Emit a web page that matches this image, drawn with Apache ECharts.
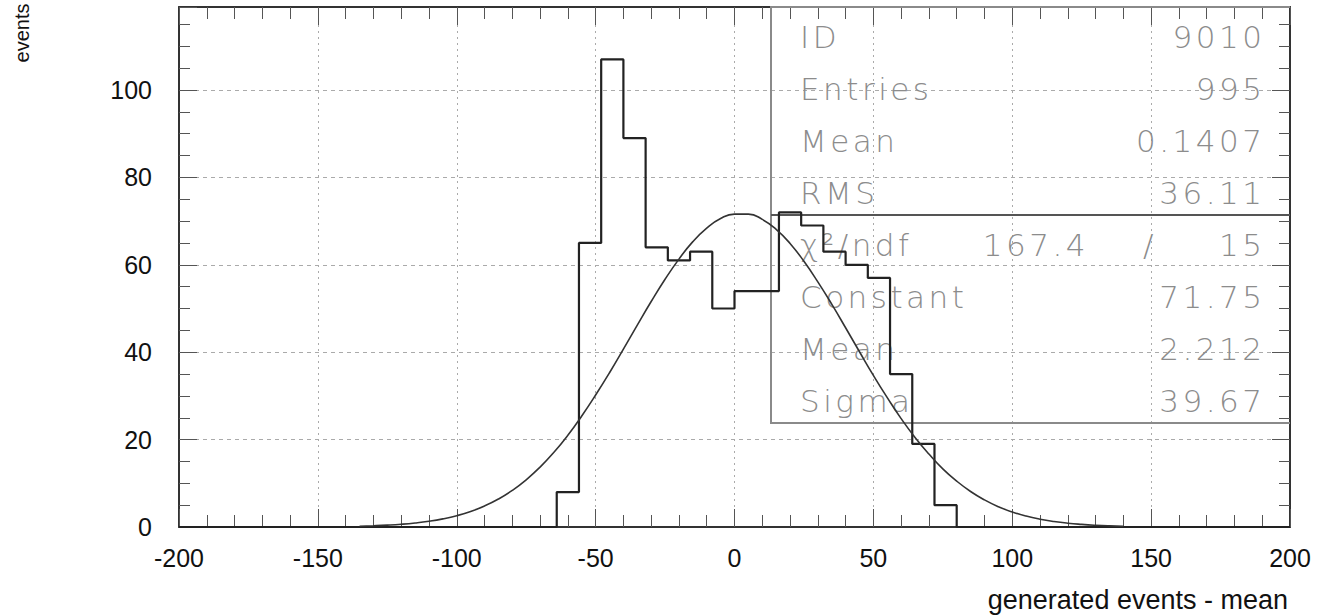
<!DOCTYPE html>
<html>
<head>
<meta charset="utf-8">
<script src="https://cdn.jsdelivr.net/npm/echarts@6/dist/echarts.min.js"></script>
<style>
html,body{margin:0;padding:0;background:#fff;}
#chart{width:1324px;height:615px;}
#chart text[style*="statsbox"], #chart text[font-family*="statsbox"]{letter-spacing:3.5px;}
</style>
</head>
<body>
<div id="chart"></div>
<script>
// ---- data ----
const binStart = -64;
const binWidth = 8;
const counts = [8, 65, 107, 89, 64, 61, 63, 50, 54, 54, 72, 69, 63, 60, 57, 35, 19, 5];
const xRange = [-200, 200];
const yRange = [0, 119];
const fitX = [-135,-130,-125,-120,-115,-110,-105,-100,-95,-90,-85,-80,-75,-70,-65,-60,-55,-50,-45,-40,-35,-30,-25,-20,-15,-10,-5,0,5,10,15,20,25,30,35,40,45,50,55,60,65,70,75,80,85,90,95,100,105,110,115,120,125,130,135,140];
const fitY = [0.18,0.28,0.42,0.62,0.91,1.31,1.86,2.59,3.56,4.81,6.40,8.38,10.8,13.7,17.1,21.0,25.4,30.2,35.3,40.7,46.2,51.6,56.7,61.3,65.3,68.4,70.6,71.6,71.6,70.4,68.1,64.9,60.8,56.1,51.0,45.6,40.1,34.7,29.6,24.8,20.5,16.7,13.3,10.5,8.13,6.20,4.65,3.44,2.50,1.79,1.26,0.87,0.60,0.40,0.26,0.17];
const statLabels = ['ID', 'Entries', 'Mean', 'RMS'];
const statValues = ['9010', '995', '0.1407', '36.11'];
const chiLabel = 'χ²/ndf';
const chiValue = '167.4';
const ndfValue = '15';
const fitLabels = ['Constant', 'Mean', 'Sigma'];
const fitValues = ['71.75', '2.212', '39.67'];
const xTitle = 'generated events - mean';
const yTitle = 'events';

// ---- build series data ----
const histData = [[xRange[0], 0]];
counts.forEach((c, i) => histData.push([binStart + i * binWidth, c]));
histData.push([binStart + counts.length * binWidth, 0]);
histData.push([xRange[1], 0]);
const fitData = fitX.map((x, i) => [x, fitY[i]]);

// ---- layout ----
const G = {left: 179, right: 34, top: 7, bottom: 88};
const W = 1324, H = 615;
const plotR = W - G.right;
const box = {l: 771, t: G.top, r: plotR, m: 215, b: 423};
const rowH = (box.m - box.t) / 4;
const statFont = {fontFamily: 'DejaVu Sans, statsbox', fontSize: 31, fontWeight: 200, fill: '#8c8c8c'};
const lblX = 800, valX = 1265.5;

const graphics = [];
graphics.push({type: 'polyline', z: 1, shape: {points: [[box.r, box.t], [box.l, box.t], [box.l, box.b], [box.r, box.b]]}, style: {stroke: '#8a8a8a', lineWidth: 2, fill: null}});
graphics.push({type: 'line', z: 1, shape: {x1: box.l, y1: box.m, x2: box.r, y2: box.m}, style: {stroke: '#555', lineWidth: 2}});
function txt(s, x, y, align) {
  graphics.push({type: 'text', z: 1, x: x, y: y, style: Object.assign({text: s, textAlign: align, textVerticalAlign: 'middle'}, statFont)});
}
statLabels.forEach((s, i) => {
  const y = box.t + rowH * (i + 0.5) + 4;
  txt(s, lblX, y, 'left');
  txt(statValues[i], valX, y, 'right');
});
{
  const y = box.m + rowH * 0.5 + 4;
  txt(chiLabel, lblX, y, 'left');
  txt(chiValue, 1089, y, 'right');
  txt('/', 1150, y, 'center');
  txt(ndfValue, valX, y, 'right');
}
fitLabels.forEach((s, i) => {
  const y = box.m + rowH * (i + 1.5) + 4;
  txt(s, lblX, y, 'left');
  txt(fitValues[i], valX, y, 'right');
});
graphics.push({type: 'text', x: 1288, y: 600, style: {text: xTitle, textAlign: 'right', textVerticalAlign: 'middle', fontFamily: 'Liberation Sans', fontSize: 27, fill: '#111'}});
graphics.push({type: 'text', x: 22, y: 33, rotation: Math.PI / 2, style: {text: yTitle, textAlign: 'center', textVerticalAlign: 'middle', fontFamily: 'Liberation Sans', fontSize: 20, fill: '#111'}});

const lineCol = '#333';
const labelStyle = {color: '#111', fontFamily: 'Liberation Sans', fontSize: 25};
function axisCommon(extra) {
  return Object.assign({
    type: 'value',
    axisLine: {show: true, onZero: false, lineStyle: {color: lineCol, width: 2}},
    axisTick: {show: true, inside: true, length: 18, lineStyle: {color: '#555', width: 1}}
  }, extra);
}

const option = {
  animation: false,
  backgroundColor: '#fff',
  grid: {left: G.left, right: G.right, top: G.top, bottom: G.bottom, containLabel: false},
  xAxis: [
    axisCommon({min: xRange[0], max: xRange[1], interval: 50, position: 'bottom',
      minorTick: {show: true, splitNumber: 5, length: 12, lineStyle: {color: '#555', width: 1}},
      axisLabel: Object.assign({margin: 18}, labelStyle),
      splitLine: {show: true, lineStyle: {color: '#aaa', type: [2, 4], width: 1}}}),
    axisCommon({min: xRange[0], max: xRange[1], interval: 50, position: 'top',
      minorTick: {show: true, splitNumber: 5, length: 12, lineStyle: {color: '#555', width: 1}},
      axisLabel: {show: false}, splitLine: {show: false}})
  ],
  yAxis: [
    axisCommon({min: yRange[0], max: yRange[1], interval: 20, position: 'left',
      minorTick: {show: true, splitNumber: 4, length: 11, lineStyle: {color: '#555', width: 1}},
      axisLabel: Object.assign({margin: 27, showMaxLabel: false}, labelStyle),
      splitLine: {show: true, showMaxLine: false, lineStyle: {color: '#aaa', type: [4, 4], width: 1}}}),
    axisCommon({min: yRange[0], max: yRange[1], interval: 20, position: 'right',
      minorTick: {show: true, splitNumber: 4, length: 11, lineStyle: {color: '#555', width: 1}},
      axisLabel: {show: false}, splitLine: {show: false}})
  ],
  graphic: graphics,
  series: [
    {type: 'line', name: 'hist', data: histData, step: 'end', symbol: 'none',
     lineStyle: {color: '#222', width: 2.2}, z: 3},
    {type: 'line', name: 'fit', data: fitData, smooth: true, symbol: 'none',
     lineStyle: {color: '#333', width: 1.6}, z: 4}
  ]
};
const chart = echarts.init(document.getElementById('chart'), null, {renderer: 'svg'});
chart.setOption(option);
</script>
</body>
</html>
